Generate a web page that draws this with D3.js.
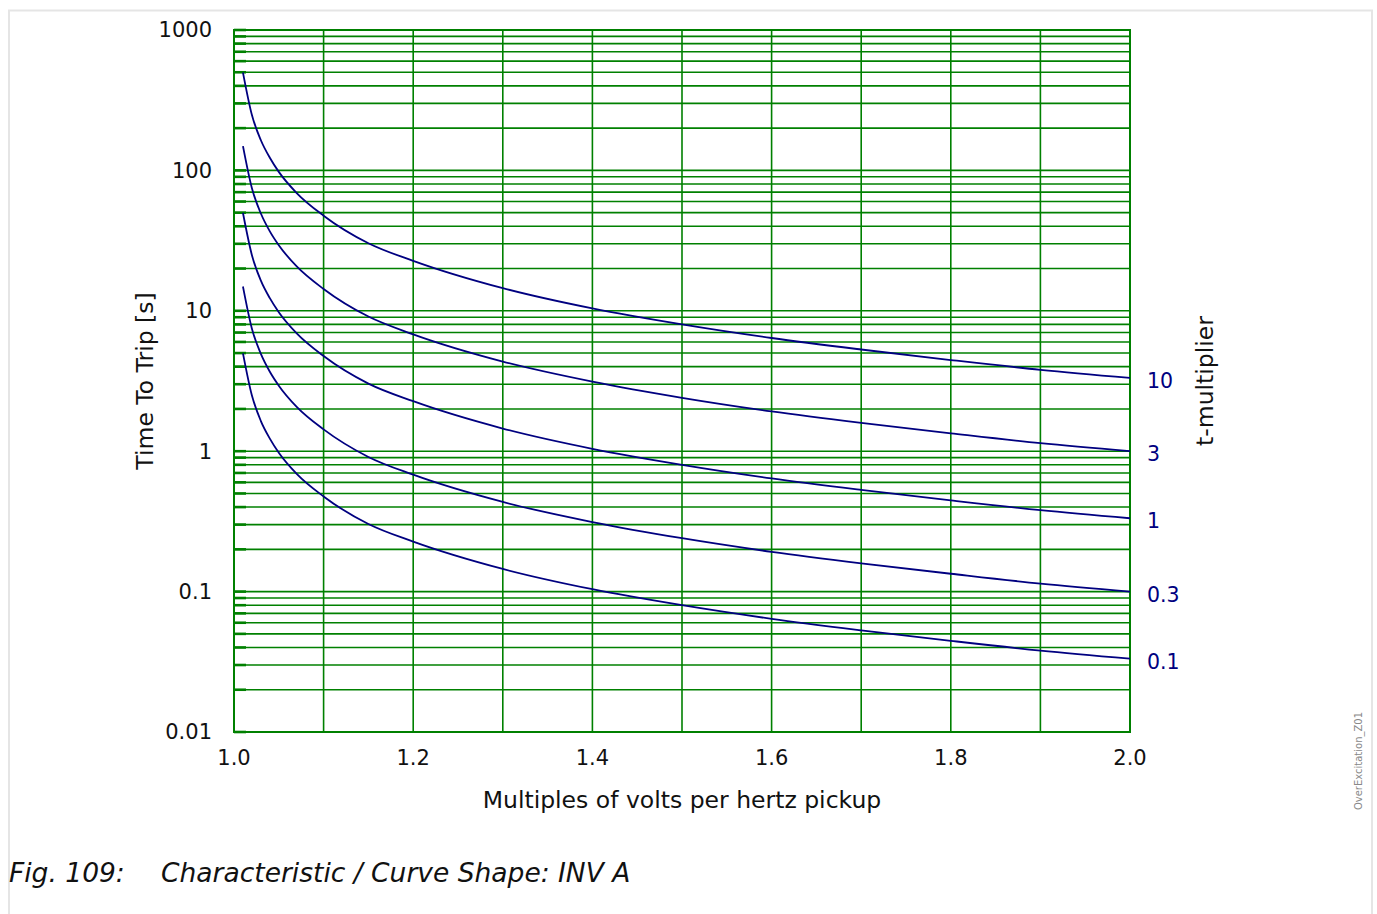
<!DOCTYPE html>
<html><head><meta charset="utf-8">
<script src="https://cdn.jsdelivr.net/npm/d3@7"></script>
<style>
html,body{margin:0;padding:0;background:#fff;}
svg text{font-family:"DejaVu Sans",sans-serif;}
</style></head>
<body>
<svg id="chart" width="1377" height="914"></svg>
<script>
// multiples of V/Hz pickup
const xs = [1.01,1.02,1.03,1.04,1.05,1.07,1.1,1.15,1.2,1.3,1.4,1.5,1.6,1.7,1.8,1.9,2.0];
const multipliers = ["10","3","1","0.3","0.1"];
const t10  = [498,248,164,123,97.6,69,47.6,30.3,22.7,14.5,10.4,8.0,6.4,5.3,4.46,3.8,3.33];
const t3   = [149,74.6,49.3,36.8,29.3,20.7,14.3,9.1,6.8,4.35,3.13,2.4,1.92,1.59,1.34,1.14,1.0];
const t1   = [49.8,24.9,16.4,12.3,9.76,6.9,4.76,3.03,2.27,1.45,1.04,0.8,0.64,0.53,0.446,0.38,0.333];
const t03  = [14.9,7.46,4.93,3.68,2.93,2.07,1.43,0.91,0.68,0.435,0.313,0.24,0.192,0.159,0.134,0.114,0.1];
const t01  = [4.98,2.49,1.64,1.23,0.976,0.69,0.476,0.303,0.227,0.145,0.104,0.08,0.064,0.053,0.0446,0.038,0.0333];
const seriesVals = [t10,t3,t1,t03,t01];
const xTicks = [1.0,1.2,1.4,1.6,1.8,2.0];
const xGrid = [1.1,1.2,1.3,1.4,1.5,1.6,1.7,1.8,1.9];
const yTicks = [0.01,0.1,1,10,100,1000];
const yTickLabels = ["0.01","0.1","1","10","100","1000"];

const svg = d3.select("#chart");
const L=234, R=1130, T=30, B=732;
const x = d3.scaleLinear().domain([1,2]).range([L,R]);
const y = d3.scaleLog().domain([0.01,1000]).range([B,T]);
const green = "#008000", navy = "#000080";

// outer light border
svg.append("path").attr("d","M9,914 V10.5 H1372 V914")
  .attr("fill","none").attr("stroke","#e5e5e5").attr("stroke-width",2);

// horizontal grid (log: 1..9 per decade)
const hLines = [];
for (let e=-2; e<3; e++) for (let m=1; m<10; m++) hLines.push(m*Math.pow(10,e));
hLines.push(1000);
const g = svg.append("g");
g.selectAll("line.h").data(hLines).join("line")
  .attr("x1",L).attr("x2",R).attr("y1",d=>y(d)).attr("y2",d=>y(d))
  .attr("stroke",green).attr("stroke-width",1.6);
g.selectAll("line.t").data(hLines).join("line")
  .attr("x1",L).attr("x2",L+12).attr("y1",d=>y(d)).attr("y2",d=>y(d))
  .attr("stroke",green).attr("stroke-width",2.6);
g.selectAll("line.v").data(xGrid).join("line")
  .attr("x1",d=>x(d)).attr("x2",d=>x(d)).attr("y1",T).attr("y2",B)
  .attr("stroke",green).attr("stroke-width",1.6);
svg.append("rect").attr("x",L).attr("y",T).attr("width",R-L).attr("height",B-T)
  .attr("fill","none").attr("stroke",green).attr("stroke-width",2);

// axes labels
svg.selectAll("text.yt").data(yTicks).join("text")
  .attr("x",212).attr("y",d=>y(d)).attr("dy","0.35em").attr("text-anchor","end")
  .attr("font-size",21).attr("fill","#111").text((d,i)=>yTickLabels[i]);
svg.selectAll("text.xt").data(xTicks).join("text")
  .attr("x",d=>x(d)).attr("y",758).attr("dy","0.35em").attr("text-anchor","middle")
  .attr("font-size",21).attr("fill","#111").text(d=>d.toFixed(1));
svg.append("text").attr("x",682).attr("y",808).attr("text-anchor","middle")
  .attr("font-size",23.5).attr("fill","#111").text("Multiples of volts per hertz pickup");
svg.append("text").attr("transform","translate(153,381) rotate(-90)").attr("text-anchor","middle")
  .attr("font-size",23.5).attr("fill","#111").text("Time To Trip [s]");
svg.append("text").attr("transform","translate(1213,381) rotate(-90)").attr("text-anchor","middle")
  .attr("font-size",23.5).attr("fill","#111").text("t-multiplier");

// curves
const line = d3.line().x(d=>x(d[0])).y(d=>y(d[1])).curve(d3.curveMonotoneX);
seriesVals.forEach((vals,i)=>{
  svg.append("path").attr("d",line(xs.map((v,j)=>[v,vals[j]])))
    .attr("fill","none").attr("stroke",navy).attr("stroke-width",1.8);
  svg.append("text").attr("x",1147).attr("y",y(vals[vals.length-1])+3).attr("dy","0.35em")
    .attr("font-size",20.5).attr("fill",navy).text(multipliers[i]);
});

// side id
svg.append("text").attr("transform","translate(1362,761) rotate(-90)").attr("text-anchor","middle")
  .attr("font-size",10).attr("fill","#888").text("OverExcitation_Z01");

// caption
const cap = svg.append("g").attr("font-size",26.5).attr("font-style","italic").attr("fill","#111");
cap.append("text").attr("x",9).attr("y",882).text("Fig. 109:");
cap.append("text").attr("x",161).attr("y",882).text("Characteristic / Curve Shape: INV A");
</script>
</body></html>
